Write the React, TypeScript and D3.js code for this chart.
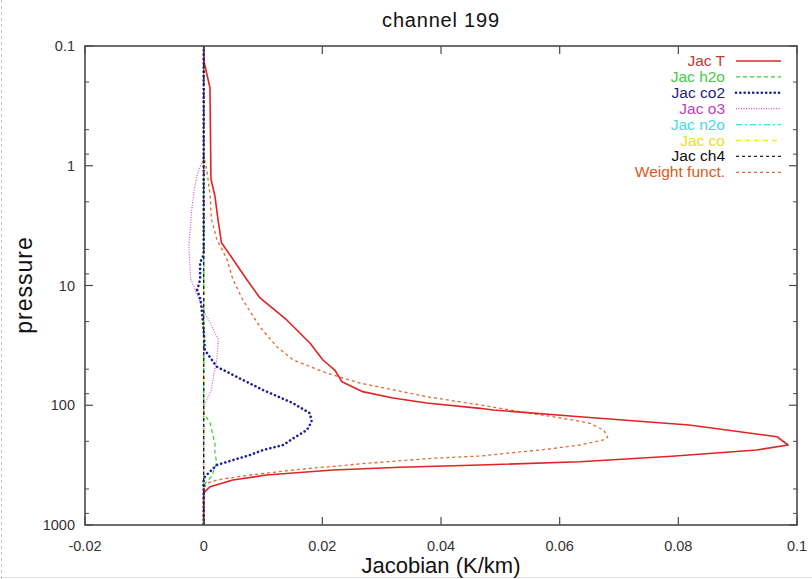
import React from "react";
import * as d3 from "d3";

const W = 812;
const H = 579;

const xTicks = [-0.02, 0, 0.02, 0.04, 0.06, 0.08, 0.1];
const xTickLabels = ["-0.02", "0", "0.02", "0.04", "0.06", "0.08", "0.1"];
const yTicks = [0.1, 1, 10, 100, 1000];
const yTickLabels = ["0.1", "1", "10", "100", "1000"];
const yMinorFactors = [2, 5, 8];

// [pressure, jacobian]
const jacT: [number, number][] = [
  [0.1, 0], [0.138, 0.0001], [0.223, 0.00106], [1.29, 0.00123], [1.79, 0.0019],
  [2.78, 0.0024], [4.39, 0.003], [6.0, 0.0049], [8.82, 0.0072], [12.7, 0.0095],
  [19.4, 0.014], [30.2, 0.0179], [41.9, 0.0201], [50.8, 0.0221], [63.6, 0.0233],
  [77.0, 0.0268], [87.0, 0.0319], [95.8, 0.0376], [106.1, 0.0466], [109.6, 0.0488],
  [124.6, 0.0634], [146.2, 0.0818], [183.0, 0.0966], [214.8, 0.0985], [236.5, 0.0932],
  [266.9, 0.0789], [296.0, 0.0634], [315.5, 0.0466], [329.8, 0.0331], [347.3, 0.0218],
  [382.4, 0.0106], [421.0, 0.0049], [478.8, 0.0011], [527.0, 0.0002], [564.0, 0],
  [1000, 0],
];

const jacH2o: [number, number][] = [
  [0.1, 0], [109.6, 0], [120.6, 0.0002], [140.7, 0.0011], [183.0, 0.0016],
  [206.7, 0.0019], [250.0, 0.0019], [303.6, 0.0022], [395.0, 0.0013], [435.0, 0.0005],
  [470.0, 0], [1000, 0],
];

const jacCo2: [number, number][] = [
  [0.1, 0], [5.56, 0], [6.45, -0.0006], [9.0, -0.0006], [10.9, -0.0011],
  [13.2, -0.0005], [16.5, -0.0003], [23.5, 0], [34.6, 0.0002], [47.6, 0.0022],
  [61.5, 0.0066], [74.6, 0.01], [96.3, 0.0151], [116.7, 0.0179], [137.2, 0.0182],
  [161.0, 0.0174], [188.8, 0.0151], [214.8, 0.0134], [236.5, 0.01], [260.3, 0.0078],
  [315.5, 0.0022], [395.0, 0.0002], [445.0, -0.0001], [480.0, 0], [1000, 0],
];

const jacO3: [number, number][] = [
  [0.1, 0], [0.739, 0], [0.878, -0.0001], [1.15, -0.001], [1.59, -0.0016],
  [2.3, -0.002], [4.68, -0.0025], [8.82, -0.0022], [11.5, -0.0012], [15.0, -0.0003],
  [20.6, 0.0011], [28.5, 0.0025], [41.9, 0.0022], [55.9, 0.0017], [74.6, 0.0013],
  [90.4, 0.0005], [100.0, 0.0001], [110.0, 0], [1000, 0],
];

const jacN2o: [number, number][] = [[0.1, 0], [1000, 0]];
const jacCo: [number, number][] = [[0.1, 0], [1000, 0]];
const jacCh4: [number, number][] = [[0.1, 0], [1000, 0]];

const weightFunct: [number, number][] = [
  [0.1, 0], [0.74, 0], [0.878, 0.0001], [1.065, 0.0005], [1.79, 0.0011],
  [2.78, 0.0013], [4.09, 0.0022], [6.0, 0.0039], [8.82, 0.0049], [13.2, 0.0066],
  [22.2, 0.0095], [32.4, 0.0123], [41.9, 0.0151], [53.8, 0.0207], [65.2, 0.0263],
  [84.8, 0.0376], [99.5, 0.0466], [116.7, 0.055], [128.5, 0.0606], [141.5, 0.0651],
  [161.0, 0.0674], [185.2, 0.0681], [195.0, 0.0674], [214.8, 0.0634], [233.3, 0.0578],
  [249.0, 0.0522], [265.3, 0.0466], [277.3, 0.0386], [305.4, 0.0275], [342.7, 0.0162],
  [382.4, 0.0078], [421.0, 0.0022], [448.6, 0.0005], [500.0, 0], [1000, 0],
];

const seriesNames = ["Jac T", "Jac h2o", "Jac co2", "Jac o3", "Jac n2o", "Jac co", "Jac ch4", "Weight funct."];
const seriesData = [jacT, jacH2o, jacCo2, jacO3, jacN2o, jacCo, jacCh4, weightFunct];
const seriesStyle = [
  { color: "#e02424", text: "#c03a3a", dash: "", width: 1.6, cap: "butt" },
  { color: "#33cc33", text: "#44cc44", dash: "4,3", width: 1.2, cap: "butt" },
  { color: "#1f1f9a", text: "#1f1f80", dash: "0.1,4.2", width: 2.6, cap: "round" },
  { color: "#d050d0", text: "#c040c0", dash: "1,1.5", width: 1.2, cap: "butt" },
  { color: "#33dddd", text: "#44dddd", dash: "6,3,2,3", width: 1.2, cap: "butt" },
  { color: "#eeee22", text: "#e8e020", dash: "5,4", width: 1.3, cap: "butt" },
  { color: "#222222", text: "#111111", dash: "3,3", width: 1.4, cap: "butt" },
  { color: "#e06a30", text: "#d85a20", dash: "3,3", width: 1.3, cap: "butt" },
];
const drawOrder = [4, 5, 1, 3, 7, 0, 2, 6];

export default function App() {
  const left = 85, right = 797, top = 46, bottom = 525;
  const x = d3.scaleLinear().domain([-0.02, 0.1]).range([left, right]);
  const y = d3.scaleLog().domain([0.1, 1000]).range([top, bottom]);
  const line = d3.line<[number, number]>().x((d) => x(d[1])).y((d) => y(d[0]));

  const minorTicks: number[] = [];
  for (let k = 0; k < 4; k++) {
    for (const f of yMinorFactors) minorTicks.push(yTicks[k] * f);
  }
  const font = "'Liberation Sans', Arial, Helvetica, sans-serif";
  const axisColor = "#4a4a4a";

  return (
    <svg width={W} height={H} style={{ position: "absolute", left: 0, top: 0, background: "#fff" }} fontFamily={font}>
      <rect x={0} y={0} width={W} height={H} fill="#fff" />
      <line x1={1.5} y1={0} x2={1.5} y2={H} stroke="#c8c8c8" strokeDasharray="3,3" />
      <line x1={0} y1={577.5} x2={W} y2={577.5} stroke="#dddddd" />
      <defs>
        <clipPath id="plotclip">
          <rect x={left} y={top} width={right - left} height={bottom - top} />
        </clipPath>
      </defs>
      <text x={(left + right) / 2} y={27} textAnchor="middle" fontSize={20} letterSpacing={0.8} fill="#111">channel 199</text>

      <g clipPath="url(#plotclip)">
        {drawOrder.map((i) => (
          <path key={i} d={line(seriesData[i]) || ""} fill="none" stroke={seriesStyle[i].color}
            strokeWidth={seriesStyle[i].width} strokeDasharray={seriesStyle[i].dash}
            strokeLinecap={seriesStyle[i].cap as any} strokeLinejoin="round" />
        ))}
      </g>

      {/* frame */}
      <rect x={left} y={top} width={right - left} height={bottom - top} fill="none" stroke={axisColor} strokeWidth={1.6} />
      {xTicks.map((t, i) => (
        <g key={"xt" + i}>
          <line x1={x(t)} x2={x(t)} y1={bottom} y2={bottom - 8} stroke={axisColor} strokeWidth={1.2} />
          <line x1={x(t)} x2={x(t)} y1={top} y2={top + 8} stroke={axisColor} strokeWidth={1.2} />
          <text x={x(t)} y={551} textAnchor="middle" fontSize={14.5} fill="#333">{xTickLabels[i]}</text>
        </g>
      ))}
      {yTicks.map((t, i) => (
        <g key={"yt" + i}>
          <line x1={left} x2={left + 8} y1={y(t)} y2={y(t)} stroke={axisColor} strokeWidth={1.2} />
          <line x1={right} x2={right - 8} y1={y(t)} y2={y(t)} stroke={axisColor} strokeWidth={1.2} />
          <text x={75} y={y(t) + 5} textAnchor="end" fontSize={14.5} fill="#333">{yTickLabels[i]}</text>
        </g>
      ))}
      {minorTicks.map((t, i) => (
        <g key={"ym" + i}>
          <line x1={left} x2={left + 4} y1={y(t)} y2={y(t)} stroke={axisColor} strokeWidth={1} />
          <line x1={right} x2={right - 4} y1={y(t)} y2={y(t)} stroke={axisColor} strokeWidth={1} />
        </g>
      ))}

      {/* legend */}
      {seriesNames.map((name, i) => {
        const ly = 61 + i * 15.9;
        const st = seriesStyle[i];
        return (
          <g key={"lg" + i}>
            <text x={725} y={ly + 5} textAnchor="end" fontSize={15.5} fill={st.text}>{name}</text>
            <line x1={736} x2={781} y1={ly} y2={ly} stroke={st.color} strokeWidth={st.width}
              strokeDasharray={st.dash} strokeLinecap={st.cap as any} />
          </g>
        );
      })}

      <text x={(left + right) / 2} y={573} textAnchor="middle" fontSize={22} fill="#111">Jacobian (K/km)</text>
      <text transform="translate(32,285) rotate(-90)" textAnchor="middle" fontSize={23} letterSpacing={1} fill="#111">pressure</text>
    </svg>
  );
}
